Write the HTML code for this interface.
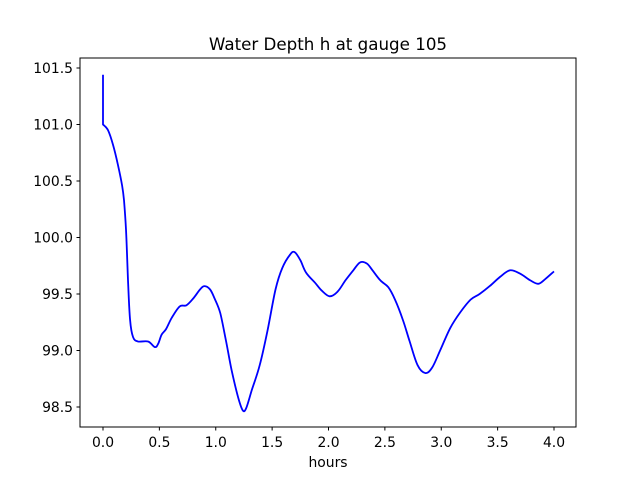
<!DOCTYPE html>
<html><head><meta charset="utf-8"><style>
body{margin:0;background:#fff;}
svg{display:block;font-family:"DejaVu Sans","Liberation Sans",sans-serif;}
</style></head><body>
<svg id="chart" width="640" height="480" xmlns="http://www.w3.org/2000/svg">
<rect width="640" height="480" fill="#fff"/>
<text x="328" y="50" text-anchor="middle" font-size="16.7">Water Depth h at gauge 105</text>
<text x="328" y="467" text-anchor="middle" font-size="13.9">hours</text>
<g id="xt"></g>
<g id="yt"></g>
<path id="line" fill="none" stroke="#0000ff" stroke-width="1.8" stroke-linejoin="round"/>
<rect x="80" y="58" width="496" height="369" fill="none" stroke="#000" stroke-width="1"/>
</svg>
<script>
const hours=[0,0,0.044,0.089,0.133,0.169,0.186,0.204,0.222,0.24,0.266,0.31,0.40,0.46,0.49,0.52,0.56,0.61,0.68,0.74,0.80,0.86,0.90,0.95,0.99,1.04,1.09,1.14,1.20,1.24,1.27,1.32,1.39,1.46,1.53,1.59,1.66,1.70,1.75,1.80,1.88,1.94,2.01,2.08,2.15,2.22,2.28,2.34,2.39,2.46,2.53,2.59,2.66,2.72,2.79,2.86,2.92,2.99,3.08,3.17,3.26,3.34,3.43,3.52,3.61,3.70,3.79,3.86,3.92,4.0];
const depth=[101.44,101.0,100.95,100.82,100.64,100.46,100.33,100.07,99.62,99.27,99.12,99.08,99.08,99.03,99.06,99.14,99.19,99.29,99.39,99.40,99.46,99.54,99.57,99.54,99.46,99.33,99.09,98.83,98.58,98.47,98.49,98.65,98.87,99.18,99.54,99.73,99.85,99.87,99.80,99.69,99.60,99.53,99.48,99.52,99.62,99.71,99.78,99.77,99.71,99.62,99.56,99.45,99.27,99.08,98.87,98.80,98.85,99.00,99.20,99.34,99.45,99.50,99.57,99.65,99.71,99.68,99.62,99.59,99.63,99.70];
const xTicks=[0,0.5,1,1.5,2,2.5,3,3.5,4];
const yTicks=[98.5,99.0,99.5,100.0,100.5,101.0,101.5];
const X=v=>103+(v-0)*112.75;
const Y=v=>68+(101.5-v)*113;
const NS="http://www.w3.org/2000/svg";
const xt=document.getElementById('xt'),yt=document.getElementById('yt');
xTicks.forEach(t=>{
 const l=document.createElementNS(NS,'line');
 
 
 l.setAttribute('x1',X(t));l.setAttribute('x2',X(t));l.setAttribute('y1',427);l.setAttribute('y2',430.5);l.setAttribute('stroke','#000');
 xt.appendChild(l);
 const s=document.createElementNS(NS,'text');
 
 
 s.setAttribute('x',X(t));s.setAttribute('y',447);s.setAttribute('text-anchor','middle');s.setAttribute('font-size','13.9');
 s.textContent=t.toFixed(1);xt.appendChild(s);
});
yTicks.forEach(t=>{
 const l=document.createElementNS(NS,'line');
 
 
 l.setAttribute('x1',76.5);l.setAttribute('x2',80);l.setAttribute('y1',Y(t));l.setAttribute('y2',Y(t));l.setAttribute('stroke','#000');
 yt.appendChild(l);
 const s=document.createElementNS(NS,'text');
 
 
 s.setAttribute('x',73);s.setAttribute('y',Y(t)+5);s.setAttribute('text-anchor','end');s.setAttribute('font-size','13.9');
 s.textContent=t.toFixed(1);yt.appendChild(s);
});
const P=hours.map((h,i)=>[X(h),Y(depth[i])]);
let d='M'+P[0][0].toFixed(1)+','+P[0][1].toFixed(1)+'L'+P[1][0].toFixed(1)+','+P[1][1].toFixed(1);
for(let i=1;i<P.length-1;i++){
 const p0=P[Math.max(1,i-1)],p1=P[i],p2=P[i+1],p3=P[Math.min(P.length-1,i+2)];
 const c1=[p1[0]+(p2[0]-p0[0])/6,p1[1]+(p2[1]-p0[1])/6];
 const c2=[p2[0]-(p3[0]-p1[0])/6,p2[1]-(p3[1]-p1[1])/6];
 d+='C'+c1[0].toFixed(1)+','+c1[1].toFixed(1)+' '+c2[0].toFixed(1)+','+c2[1].toFixed(1)+' '+p2[0].toFixed(1)+','+p2[1].toFixed(1);
}
document.getElementById('line').setAttribute('d',d);
</script>
</body></html>
